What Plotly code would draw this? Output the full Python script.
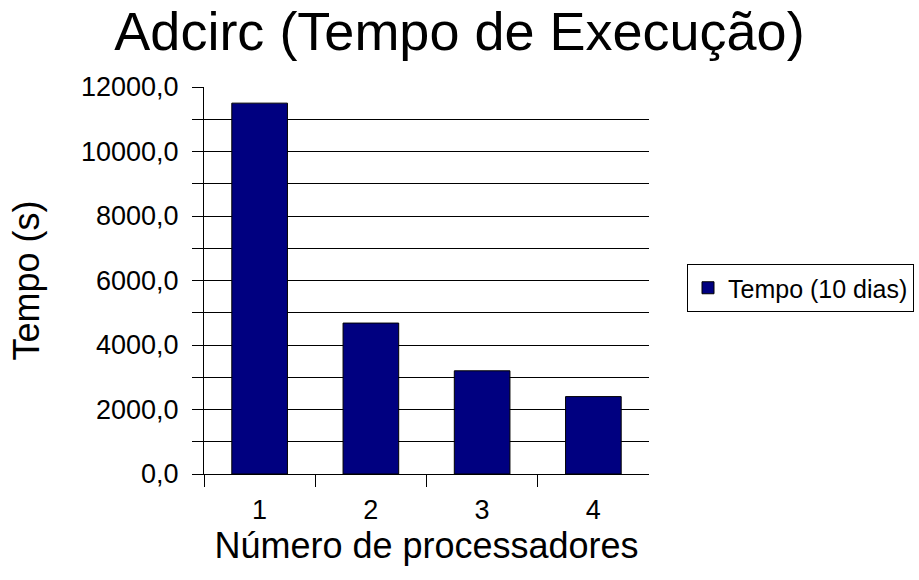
import plotly.graph_objects as go

categories = [1, 2, 3, 4]
category_labels = ["1", "2", "3", "4"]
tempo_10_dias = [11500, 4680, 3200, 2400]
series_name = "Tempo (10 dias)"
y_tick_values = [0, 1000, 2000, 3000, 4000, 5000, 6000, 7000, 8000, 9000, 10000, 11000, 12000]
y_tick_labels = ["0,0", "", "2000,0", "", "4000,0", "", "6000,0", "", "8000,0", "", "10000,0", "", "12000,0"]
x_boundaries = [0.5, 1.5, 2.5, 3.5]

FONT = "Liberation Sans, Arial, sans-serif"

fig = go.Figure()
fig.add_trace(go.Bar(
    x=categories,
    y=tempo_10_dias,
    name=series_name,
    marker=dict(color="#000080", line=dict(color="#000000", width=1)),
    width=0.5,
    showlegend=True,
))

fig.update_layout(
    width=919,
    height=580,
    paper_bgcolor="white",
    plot_bgcolor="white",
    font=dict(family=FONT, color="black"),
    margin=dict(l=204, r=270, t=87, b=106, autoexpand=False),
    title=dict(
        text="Adcirc (Tempo de Execução)",
        font=dict(size=54, family=FONT, color="black"),
        x=0.5, xanchor="center", xref="container",
        y=1 - 31 / 580, yanchor="middle", yref="container",
    ),
    xaxis=dict(
        range=[0.5, 4.5],
        tickvals=categories,
        ticktext=category_labels,
        ticks="",
        tickfont=dict(size=27, family=FONT, color="black"),
        ticklabelstandoff=12,
        showline=True, linecolor="black", linewidth=1,
        showgrid=False, zeroline=False,
        minor=dict(tickmode="array", tickvals=x_boundaries, ticks="outside",
                   ticklen=12, tickcolor="black", tickwidth=1, showgrid=False),
        title=dict(text="Número de processadores",
                   font=dict(size=36, family=FONT, color="black"), standoff=8),
        fixedrange=True,
    ),
    yaxis=dict(
        range=[0, 12000],
        tickvals=y_tick_values,
        ticktext=y_tick_labels,
        ticks="outside", ticklen=11, tickcolor="black", tickwidth=1,
        tickfont=dict(size=27, family=FONT, color="black"),
        ticklabelstandoff=8,
        showline=True, linecolor="black", linewidth=1,
        showgrid=True, gridcolor="black", gridwidth=1,
        zeroline=False,
        title=dict(text="Tempo (s)",
                   font=dict(size=36, family=FONT, color="black"), standoff=30),
        fixedrange=True,
    ),
    legend=dict(
        x=(687 - 204) / 445, xanchor="left",
        y=(474 - 288) / 387, yanchor="middle",
        bordercolor="black", borderwidth=1,
        bgcolor="white",
        font=dict(size=25, family=FONT, color="black"),
    ),
    bargap=0.5,
)

fig.write_html("out.html", config={"displayModeBar": False},
               post_script="document.body.style.margin='0';")
